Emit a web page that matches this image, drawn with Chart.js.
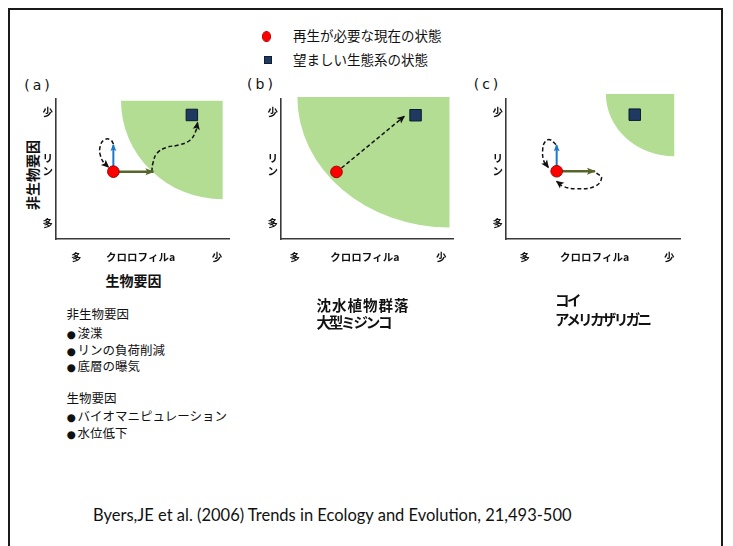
<!DOCTYPE html>
<html><head><meta charset="utf-8">
<script src="https://cdn.jsdelivr.net/npm/chart.js@4.4.1/dist/chart.umd.min.js"></script>
<style>
html,body{margin:0;padding:0;background:#fff;width:733px;height:546px;overflow:hidden;}
body{position:relative;font-family:"Noto Sans CJK JP","Noto Sans",sans-serif;color:#111;}
.frame{position:absolute;left:8px;top:8px;width:715px;height:600px;border:2px solid #1a1a1a;box-sizing:border-box;}
.t{position:absolute;white-space:nowrap;line-height:1;}
.c{transform:translate(-50%,-50%);}
.l{transform:translateY(-50%);}
canvas{position:absolute;}
.mk{position:absolute;}
.b{font-family:"DejaVu Sans",sans-serif;font-size:10.5px;display:inline-block;width:11px;}
.pl{font-family:"DejaVu Sans",sans-serif;font-size:14px;letter-spacing:3px;}
</style></head><body>
<div class="frame"></div>

<div class="mk" style="left:262px;top:31px;width:9px;height:10.5px;border-radius:50%;background:#ff0000;box-sizing:border-box;border:1px solid #c00000;"></div>
<div class="t l" style="left:293px;top:36px;font-size:13.5px;">再生が必要な現在の状態</div>
<div class="mk" style="left:263.8px;top:55.8px;width:8.6px;height:8.6px;background:#1f3a60;box-sizing:border-box;border:1px solid #0f1f33;"></div>
<div class="t l" style="left:293px;top:60px;font-size:13.5px;">望ましい生態系の状態</div>

<div class="t c pl" style="left:38.5px;top:85px;">(a)</div>
<div class="t c pl" style="left:261.5px;top:84px;">(b)</div>
<div class="t c pl" style="left:487.5px;top:84px;">(c)</div>

<div class="t" style="left:31.7px;top:175px;font-size:14px;font-weight:bold;transform:translate(-50%,-50%) rotate(-90deg);">非生物要因</div>
<div class="t c" style="left:133.5px;top:280px;font-size:14px;font-weight:bold;">生物要因</div>

<canvas id="pa" width="240" height="200" style="left:0px;top:70px;"></canvas>
<canvas id="pb" width="240" height="200" style="left:225px;top:70px;"></canvas>
<canvas id="pc" width="240" height="200" style="left:450px;top:70px;"></canvas>

<div class="t l" style="left:66.5px;top:314px;font-size:12.5px;">非生物要因</div>
<div class="t l" style="left:66.5px;top:332.5px;font-size:12.5px;"><span class="b">●</span>浚渫</div>
<div class="t l" style="left:66.5px;top:349.5px;font-size:12.5px;"><span class="b">●</span>リンの負荷削減</div>
<div class="t l" style="left:66.5px;top:366px;font-size:12.5px;"><span class="b">●</span>底層の曝気</div>
<div class="t l" style="left:66.5px;top:397.5px;font-size:12.5px;">生物要因</div>
<div class="t l" style="left:66.5px;top:415.5px;font-size:12.5px;"><span class="b">●</span>バイオマニピュレーション</div>
<div class="t l" style="left:66.5px;top:432.5px;font-size:12.5px;"><span class="b">●</span>水位低下</div>

<div class="t l" style="left:316.5px;top:305px;font-size:14.5px;font-weight:bold;letter-spacing:1px;">沈水植物群落</div>
<div class="t l" style="left:316.5px;top:321.7px;font-size:14.5px;font-weight:bold;letter-spacing:-2.2px;">大型ミジンコ</div>
<div class="t l" style="left:555px;top:300px;font-size:14.5px;font-weight:bold;letter-spacing:-2.6px;">コイ</div>
<div class="t l" style="left:555px;top:319px;font-size:14.5px;font-weight:bold;letter-spacing:-2.6px;">アメリカザリガニ</div>

<div class="t l" style="left:93px;top:515px;font-size:16.5px;font-family:Lato,'Open Sans',sans-serif;color:#111;">Byers,JE et al. (2006) Trends in Ecology and Evolution, 21,493-500</div>

<script>
// ---- tick labels ----
const xTickLabels = ['多', 'クロロフィルa', '少'];
const yTickLabels = ['多', ['リ', 'ン'], '少'];
const yTickValues = [1.12, 5.3, 9.09];
const xTickValuesA = [1.17, 4.88, 9.29];
const xTickValuesB = [0.80, 4.87, 9.30];
const xTickValuesC = [1.07, 5.07, 9.35];

// ---- panel (a) ----
const currentA = [{x: 3.31, y: 4.81}];
const desiredA = [{x: 7.84, y: 8.86}];
const regionA = [9.62, 9.88, 5.87, 7.04];           // centre x, centre y, radius x, radius y
const bioArrowA = [{x: 3.31, y: 4.81}, {x: 5.62, y: 4.81}];
const abioArrowA = [{x: 3.31, y: 4.81}, {x: 3.31, y: 6.71}];
const loopA = [{x: 3.32, y: 6.79}, {x: 3.12, y: 7.11}, {x: 2.77, y: 7.07}, {x: 2.54, y: 6.57},
               {x: 2.57, y: 5.93}, {x: 2.77, y: 5.43}, {x: 3.03, y: 5.14}];
const pathA = [{x: 5.53, y: 4.81}, {x: 5.59, y: 5.41}, {x: 5.82, y: 6.12}, {x: 6.40, y: 6.55},
               {x: 7.07, y: 6.71}, {x: 7.75, y: 7.07}, {x: 8.09, y: 7.79}, {x: 8.17, y: 8.31}];

// ---- panel (b) ----
const currentB = [{x: 3.22, y: 4.79}];
const desiredB = [{x: 7.81, y: 8.84}];
const regionB = [9.78, 10.14, 8.83, 9.32];
const pathB = [{x: 3.51, y: 5.07}, {x: 7.15, y: 8.76}];

// ---- panel (c) ----
const currentC = [{x: 2.90, y: 4.84}];
const desiredC = [{x: 7.37, y: 8.88}];
const regionC = [9.63, 10.36, 3.91, 4.45];
const bioArrowC = [{x: 2.90, y: 4.84}, {x: 5.09, y: 4.84}];
const abioArrowC = [{x: 2.90, y: 4.84}, {x: 2.90, y: 6.69}];
const loopC = [{x: 2.86, y: 6.74}, {x: 2.51, y: 7.09}, {x: 2.23, y: 6.93}, {x: 2.10, y: 6.38},
               {x: 2.17, y: 5.55}, {x: 2.42, y: 5.12}];
const loopC2 = [{x: 5.18, y: 4.71}, {x: 5.47, y: 4.36}, {x: 5.09, y: 3.76}, {x: 4.04, y: 3.59},
                {x: 3.27, y: 3.76}, {x: 2.90, y: 4.12}];

// ---- plugins ----
const regionPlugin = {
  id: 'region',
  beforeDatasetsDraw(chart, args, opts) {
    const r = opts.r; if (!r) return;
    const xs = chart.scales.x, ys = chart.scales.y;
    const cx = xs.getPixelForValue(r[0]), cy = ys.getPixelForValue(r[1]);
    const rx = Math.abs(xs.getPixelForValue(r[0] - r[2]) - cx);
    const ry = Math.abs(ys.getPixelForValue(r[1] - r[3]) - cy);
    const ctx = chart.ctx;
    ctx.save();
    ctx.fillStyle = '#b3dd93';
    ctx.beginPath();
    ctx.moveTo(cx, cy);
    ctx.ellipse(cx, cy, rx, ry, 0, Math.PI / 2, Math.PI);
    ctx.closePath();
    ctx.fill();
    ctx.restore();
  }
};
const arrowPlugin = {
  id: 'arrowheads',
  afterDatasetDraw(chart, args) {
    const ds = chart.data.datasets[args.index];
    if (!ds.head) return;
    const pts = args.meta.data;
    const end = pts[pts.length - 1];
    let fx = pts[pts.length - 2].x, fy = pts[pts.length - 2].y;
    if (ds.tension && end.cp1x !== undefined && (end.cp1x !== end.x || end.cp1y !== end.y)) { fx = end.cp1x; fy = end.cp1y; }
    const ang = Math.atan2(end.y - fy, end.x - fx);
    const [L, W] = ds.head;
    const ctx = chart.ctx;
    ctx.save();
    ctx.translate(end.x, end.y);
    ctx.rotate(ang);
    ctx.fillStyle = ds.borderColor;
    ctx.beginPath();
    ctx.moveTo(1, 0);
    ctx.lineTo(-L, -W);
    ctx.lineTo(-L * 0.75, 0);
    ctx.lineTo(-L, W);
    ctx.closePath();
    ctx.fill();
    ctx.restore();
  }
};

function pointSets(cur, des) {
  return [
    {data: cur, pointStyle: 'circle', pointRadius: 5.8, backgroundColor: '#ff0000', borderColor: '#a00000', borderWidth: 1, clip: false},
    {data: des, pointStyle: 'rect', pointRadius: 8.1, backgroundColor: '#1f3a60', borderColor: '#0d1a2e', borderWidth: 1, clip: false}
  ];
}
function arrowSet(d, color, w, head) {
  return {data: d, showLine: true, pointRadius: 0, borderColor: color, backgroundColor: color, borderWidth: w, head: head, clip: false};
}
function dashSet(d, tension) {
  return {data: d, showLine: true, pointRadius: 0, borderColor: '#111', backgroundColor: '#111', borderWidth: 1.5,
          borderDash: [4, 2.5], tension: tension, head: [7, 3.6], clip: false};
}

function makePanel(id, xTicks, region, padRight, datasets) {
  new Chart(document.getElementById(id), {
    type: 'scatter',
    data: {datasets: datasets},
    plugins: [regionPlugin, arrowPlugin],
    options: {
      responsive: false, animation: false, events: [],
      layout: {padding: {top: 29, right: padRight, left: 0, bottom: 0}},
      plugins: {legend: {display: false}, tooltip: {enabled: false}, region: {r: region}},
      elements: {line: {capBezierPoints: false}},
      scales: {
        x: {
          type: 'linear', min: 0, max: 10,
          grid: {display: false, drawTicks: false},
          border: {display: true, color: '#3a3a3a', width: 1.6},
          afterBuildTicks: s => { s.ticks = xTicks.map(v => ({value: v})); },
          afterFit: s => { s.height = 31; },
          ticks: {autoSkip: false, maxRotation: 0, minRotation: 0, padding: 12, color: '#111',
                  font: {family: '"Noto Sans CJK JP"', size: 10.5, weight: 'bold'},
                  callback: (v, i) => xTickLabels[i]}
        },
        y: {
          type: 'linear', min: 0, max: 10,
          grid: {display: false, drawTicks: false},
          border: {display: true, color: '#3a3a3a', width: 1.6},
          afterBuildTicks: s => { s.ticks = yTickValues.map(v => ({value: v})); },
          afterFit: s => { s.width = 56; },
          ticks: {autoSkip: false, padding: 3, color: '#111',
                  font: {family: '"Noto Sans CJK JP"', size: 10.5, weight: 'bold', lineHeight: 1.25},
                  callback: (v, i) => yTickLabels[i]}
        }
      }
    }
  });
}

const blue = '#1a78c8', olive = '#56662a';
makePanel('pa', xTickValuesA, regionA, 10.7, [
  ...pointSets(currentA, desiredA),
  arrowSet(abioArrowA, blue, 2, [6, 3]),
  arrowSet(bioArrowA, olive, 2.5, [8, 3.5]),
  dashSet(loopA, 0.45),
  dashSet(pathA, 0.4)
]);
makePanel('pb', xTickValuesB, regionB, 11.7, [
  ...pointSets(currentB, desiredB),
  dashSet(pathB, 0)
]);
makePanel('pc', xTickValuesC, regionC, 9.3, [
  ...pointSets(currentC, desiredC),
  arrowSet(abioArrowC, blue, 2, [6, 3]),
  arrowSet(bioArrowC, olive, 2.5, [8, 3.5]),
  dashSet(loopC, 0.45),
  dashSet(loopC2, 0.45)
]);
</script>
</body></html>
